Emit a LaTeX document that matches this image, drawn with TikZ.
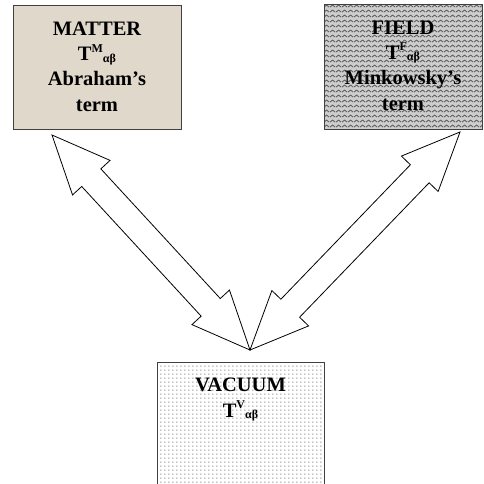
\documentclass[tikz,border=0pt]{standalone}
\usepackage{fontspec}
\setmainfont{Liberation Serif}
\usetikzlibrary{calc, patterns.meta}
\definecolor{matter_beige}{RGB}{224, 216, 202}
\definecolor{field_gray}{RGB}{205, 205, 205}

% fill textures of the boxes
\tikzdeclarepattern{name=zigzag, type=uncolored,
  bottom left={(0pt,0pt)}, top right={(6pt,4.5pt)}, tile size={(6pt,4.5pt)},
  code={\draw[line width=0.9pt] (0pt,1pt) -- (3pt,3.2pt) -- (6pt,1pt);}}
\tikzdeclarepattern{name=finedots, type=uncolored,
  bottom left={(0pt,0pt)}, top right={(4.2pt,4.4pt)}, tile size={(4.2pt,4.4pt)},
  code={\fill (1.5pt,1.5pt) rectangle (2.7pt,2.7pt);}}

\newcommand{\Tab}[1]{T\raisebox{8.5pt}{\fontsize{12}{12}\selectfont #1}%
  \raisebox{-1.5pt}{\fontsize{12}{12}\selectfont αβ}}
\newcommand{\arrhead}{58pt}
\newcommand{\arrhalf}{25.5pt}
\newcommand{\shafthalf}{13pt}
\newcommand{\fatarrow}[2]{%
  \draw[fat] (#1)
    -- ($(#1)!\arrhead!(#2)!\arrhalf!90:(#2)$)
    -- ($(#1)!\arrhead!(#2)!\shafthalf!90:(#2)$)
    -- ($(#2)!\arrhead!(#1)!\shafthalf!-90:(#1)$)
    -- ($(#2)!\arrhead!(#1)!\arrhalf!-90:(#1)$)
    -- (#2)
    -- ($(#2)!\arrhead!(#1)!\arrhalf!90:(#1)$)
    -- ($(#2)!\arrhead!(#1)!\shafthalf!90:(#1)$)
    -- ($(#1)!\arrhead!(#2)!\shafthalf!-90:(#2)$)
    -- ($(#1)!\arrhead!(#2)!\arrhalf!-90:(#2)$)
    -- cycle;}

\begin{document}
\begin{tikzpicture}[x=1pt, y=-1pt,
    box/.style={draw=black!75, line width=1pt, inner sep=0pt},
    boxtext/.style={anchor=north, yshift=-16pt, inner sep=0pt, align=center,
      font=\fontsize{20.5}{25.3}\selectfont\bfseries},
    fat/.style={draw, fill=white, line width=0.8pt, line join=miter}]
  \useasboundingbox (0,0) rectangle (483,484);
  \clip (0,0) rectangle (483,484);
  \node[box, fill=matter_beige, minimum width=168pt, minimum height=123pt,
    label={[boxtext]north:{MATTER\\\Tab{M}\\Abraham's\\term}}] (matter) at (97,67.5) {};
  \node[box, preaction={fill=field_gray}, pattern=zigzag, pattern color=black!65,
    minimum width=158pt, minimum height=124pt,
    label={[boxtext]north:{FIELD\\\Tab{F}\\Minkowsky's\\term}}] (field) at (403,67) {};
  \node[box, preaction={fill=white}, pattern=finedots, pattern color=black!55,
    minimum width=167pt, minimum height=150pt, anchor=north,
    label={[boxtext]north:{VACUUM\\\Tab{V}}}] (vacuum) at (240.5,362) {};
  % arrow tips
  \coordinate (mattertip) at (52,135);
  \coordinate (fieldtip) at (460,132);
  \coordinate (vacuumtip) at (250,350);
  \fatarrow{mattertip}{vacuumtip}
  \fatarrow{fieldtip}{vacuumtip}
\end{tikzpicture}
\end{document}
